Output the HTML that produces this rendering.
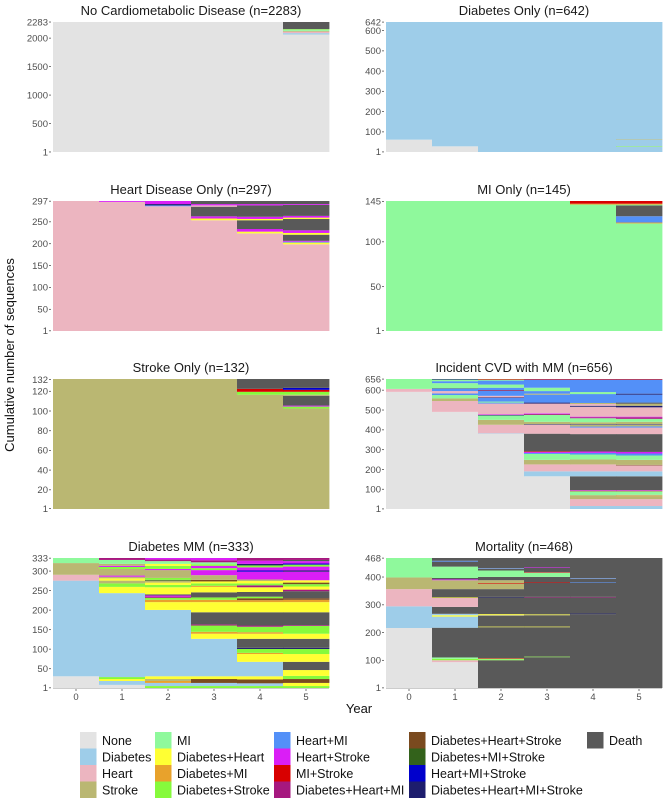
<!DOCTYPE html>
<html><head><meta charset="utf-8">
<style>
html,body{margin:0;padding:0;background:#fff;}
svg{display:block;font-family:"Liberation Sans",Arial,sans-serif;}
</style></head>
<body>
<svg id="chart" width="670" height="799" viewBox="0 0 670 799" xmlns="http://www.w3.org/2000/svg">
<text x="0" y="0" transform="translate(14,355) rotate(-90)" text-anchor="middle" font-size="13" fill="#111">Cumulative number of sequences</text>
<text x="359" y="713" text-anchor="middle" font-size="13" fill="#111">Year</text>
</svg>
<script>
// state codes
const stateNames = ["None","Diabetes","Heart","Stroke","MI","Diabetes+Heart","Diabetes+MI","Diabetes+Stroke","Heart+MI","Heart+Stroke","MI+Stroke","Diabetes+Heart+MI","Diabetes+Heart+Stroke","Diabetes+MI+Stroke","Heart+MI+Stroke","Diabetes+Heart+MI+Stroke","Death"];
const stateColors = ["#e3e3e3","#9ecde9","#ecb5c0","#bab772","#8ff99c","#ffff33","#e8a22c","#86fa3c","#5390f8","#da1ef6","#d80000","#a6187f","#7a4a1f","#33621b","#0000cc","#1d1d6d","#595959"];
const years = [0,1,2,3,4,5];

// panel data: per year, list of [state, count] from bottom up
const noCardio = [
 [[0,2283]],[[0,2283]],[[0,2283]],[[0,2283]],[[0,2283]],
 [[0,2063],[1,25],[2,25],[3,15],[4,20],[7,10],[16,125]]
];
const diabetesOnly = [
 [[0,61],[1,581]],[[0,28],[1,614]],[[1,642]],[[1,642]],[[1,642]],
 [[1,27],[7,2],[1,31],[3,2],[1,580]]
];
const heartOnly = [
 [[2,297]],
 [[2,295],[9,2]],
 [[2,285],[8,2],[15,3],[9,7]],
 [[2,253],[5,4],[9,5],[16,22],[2,3],[9,3],[16,7]],
 [[2,223],[5,4],[9,6],[16,20],[5,3],[9,5],[16,26],[9,3],[16,7]],
 [[2,198],[5,4],[8,2],[9,2],[16,14],[5,4],[9,6],[16,26],[5,3],[9,4],[16,25],[9,2],[16,7]]
];
const miOnly = [
 [[4,145]],[[4,145]],[[4,145]],[[4,145]],
 [[4,141],[6,1],[10,3]],
 [[4,120],[6,1],[8,7],[16,12],[4,1],[6,1],[10,3]]
];
const strokeOnly = [
 [[3,132]],[[3,132]],[[3,132]],[[3,132]],
 [[3,116],[7,3],[10,3],[16,10]],
 [[3,102],[7,2],[9,1],[16,10],[3,1],[7,3],[10,2],[14,2],[16,9]]
];
const cvdMM = [
 [[0,591],[2,15],[4,50]],
 [[0,490],[2,55],[3,13],[4,17],[8,8],[2,12],[8,12],[15,2],[4,26],[8,10],[4,8],[15,3]],
 [[0,380],[1,2],[2,43],[3,25],[4,22],[15,3],[9,2],[2,55],[8,5],[4,5],[8,18],[15,3],[2,8],[8,25],[10,2],[8,14],[4,16],[8,20],[4,5],[10,3]],
 [[0,165],[1,25],[2,35],[3,23],[4,30],[8,5],[9,5],[10,3],[16,89],[2,45],[15,3],[3,12],[4,35],[11,5],[9,3],[2,49],[15,5],[8,40],[3,5],[8,13],[4,17],[8,41],[10,3]],
 [[1,15],[2,35],[3,20],[4,20],[10,2],[9,3],[16,70],[1,25],[2,35],[3,25],[4,25],[8,8],[9,7],[16,88],[2,33],[8,5],[3,9],[15,3],[3,10],[4,20],[11,5],[9,3],[2,50],[15,5],[2,9],[3,5],[8,45],[4,10],[8,63],[10,3]],
 [[1,15],[2,35],[3,15],[6,2],[3,5],[4,18],[10,2],[9,3],[16,70],[1,25],[2,30],[12,3],[3,25],[4,22],[8,10],[9,8],[16,90],[2,33],[8,6],[3,8],[15,3],[3,12],[4,15],[11,8],[9,3],[2,47],[15,8],[3,10],[16,6],[8,40],[15,5],[8,71],[10,3]]
];
const diabetesMM = [
 [[0,30],[1,245],[2,15],[3,30],[4,13]],
 [[0,8],[1,10],[5,5],[7,5],[1,215],[5,16],[7,9],[3,7],[5,6],[3,4],[9,3],[3,17],[7,5],[9,3],[3,5],[4,10],[11,5]],
 [[7,5],[1,8],[6,5],[3,5],[5,7],[1,170],[5,20],[6,6],[7,5],[11,3],[9,3],[16,3],[5,18],[7,6],[5,6],[3,5],[13,2],[7,5],[3,20],[9,3],[7,8],[5,5],[4,7],[11,4],[9,4]],
 [[7,5],[1,8],[12,10],[5,7],[1,96],[5,13],[6,5],[7,16],[11,3],[16,31],[5,26],[6,6],[7,6],[16,13],[5,14],[6,3],[7,6],[5,5],[12,4],[3,12],[9,13],[7,5],[9,6],[7,4],[4,5],[11,5],[9,6]],
 [[7,5],[1,7],[12,10],[5,8],[1,37],[5,20],[6,3],[7,10],[15,3],[16,23],[5,13],[6,4],[7,14],[11,3],[16,34],[5,26],[6,5],[12,5],[7,4],[16,12],[5,12],[11,5],[7,5],[5,6],[3,4],[9,20],[14,3],[9,8],[7,5],[15,4],[9,8],[11,7]],
 [[7,5],[5,8],[12,10],[7,8],[5,15],[16,21],[5,20],[7,13],[15,3],[16,23],[5,13],[7,20],[11,2],[16,33],[5,26],[6,6],[12,4],[16,18],[11,4],[5,8],[7,6],[12,4],[5,6],[9,22],[15,3],[9,10],[7,5],[14,3],[9,6],[16,3],[11,5]]
];
const mortality = [
 [[0,216],[1,78],[2,62],[3,42],[4,70]],
 [[0,93],[2,7],[7,5],[4,5],[16,107],[1,40],[5,5],[1,5],[16,25],[2,32],[5,2],[16,30],[3,32],[9,3],[16,5],[4,41],[16,18],[8,3],[16,10]],
 [[16,100],[7,3],[4,3],[10,2],[16,111],[5,2],[16,39],[3,3],[5,3],[16,60],[15,2],[16,28],[3,20],[10,2],[3,10],[16,12],[4,23],[16,6],[8,2],[16,37]],
 [[16,111],[7,2],[16,106],[5,2],[16,40],[3,2],[5,2],[16,61],[11,2],[16,50],[10,2],[16,20],[4,15],[10,2],[16,15],[9,2],[16,34]],
 [[16,266],[15,2],[16,58],[11,2],[16,50],[8,2],[16,13],[8,2],[16,73]],
 [[16,468]]
];

// tick labels
const ticksNoCardio = [1,500,1000,1500,2000,2283];
const ticksDiabetesOnly = [1,100,200,300,400,500,600,642];
const ticksHeartOnly = [1,50,100,150,200,250,297];
const ticksMiOnly = [1,50,100,145];
const ticksStrokeOnly = [1,20,40,60,80,100,120,132];
const ticksCvdMM = [1,100,200,300,400,500,600,656];
const ticksDiabetesMM = [1,50,100,150,200,250,300,333];
const ticksMortality = [1,100,200,300,400,468];

const panelTitles = ["No Cardiometabolic Disease (n=2283)","Diabetes Only (n=642)","Heart Disease Only (n=297)","MI Only (n=145)","Stroke Only (n=132)","Incident CVD with MM (n=656)","Diabetes MM (n=333)","Mortality (n=468)"];
const panelN = [2283,642,297,145,132,656,333,468];

const NS = "http://www.w3.org/2000/svg";
const svg = document.getElementById('chart');
function mk(tag, attrs, parent){
  const e = document.createElementNS(NS, tag);
  for (const k in attrs) e.setAttribute(k, attrs[k]);
  (parent||svg).appendChild(e);
  return e;
}
const panels = [
 {data:noCardio,ticks:ticksNoCardio,name:"no-cardiometabolic"},
 {data:diabetesOnly,ticks:ticksDiabetesOnly,name:"diabetes-only"},
 {data:heartOnly,ticks:ticksHeartOnly,name:"heart-disease-only"},
 {data:miOnly,ticks:ticksMiOnly,name:"mi-only"},
 {data:strokeOnly,ticks:ticksStrokeOnly,name:"stroke-only"},
 {data:cvdMM,ticks:ticksCvdMM,name:"incident-cvd-mm"},
 {data:diabetesMM,ticks:ticksDiabetesMM,name:"diabetes-mm"},
 {data:mortality,ticks:ticksMortality,name:"mortality"}
];
const colLeft = [53, 386];
const rowTop = [22, 201, 379, 558];
const PW = 276, PH = 130;

panels.forEach((p, i) => {
  const left = colLeft[i % 2], top = rowTop[Math.floor(i / 2)];
  const n = panelN[i];
  const bottom = top + PH;
  const colW = PW / years.length;
  const xScale = yr => left + yr * colW;
  const yScale = c => bottom - c * PH / n;
  const g = mk('g', {});
  
  
  const t = mk('text', {x: left + PW/2, y: top - 7, 'text-anchor':'middle', 'font-size':'13', fill:'#1a1a1a'}, g);
  
  
  t.textContent = panelTitles[i];
  p.data.forEach((stack, yi) => {
    let cum = 0;
    stack.forEach(seg => {
      const y0 = yScale(cum), y1 = yScale(cum + seg[1]);
      const r = mk('rect', {x: xScale(years[yi]), y: y1, width: colW + 0.4, height: Math.max(y0 - y1, 0.5), fill: stateColors[seg[0]]}, g);
      
      
      cum += seg[1];
    });
  });
  p.ticks.forEach(v => {
    const yy = bottom - (v - 0.5) * PH / n;
    mk('line', {x1: left - 4, x2: left - 2, y1: yy, y2: yy, stroke: '#555', 'stroke-width': 0.8}, g);
    const tl = mk('text', {x: left - 5, y: yy + 3.3, 'text-anchor': 'end', 'font-size': '9.5', fill: '#4d4d4d'}, g);
    
    
    tl.textContent = v;
  });
  if (i >= 6) {
    mk('line', {x1: left, x2: left + PW, y1: bottom + 0.5, y2: bottom + 0.5, stroke: '#bbb', 'stroke-width': 0.8}, g);
    years.forEach(yr => {
      const cx = xScale(yr) + colW / 2;
      mk('line', {x1: cx, x2: cx, y1: bottom + 1, y2: bottom + 3, stroke: '#555', 'stroke-width': 0.8}, g);
      const xl = mk('text', {x: cx, y: bottom + 12, 'text-anchor': 'middle', 'font-size': '9.5', fill: '#4d4d4d'}, g);
      
      
      xl.textContent = yr;
    });
  }
});

// legend
const legendColX = [80, 155, 274, 409, 587];
const legendRowY = [732, 748.5, 765, 781.5];
const lg = mk('g', {});


stateNames.forEach((nm, k) => {
  const col = Math.floor(k / 4), row = k % 4;
  const x = legendColX[col], y = legendRowY[row];
  const e = mk('g', {}, lg);
  
  
  mk('rect', {x: x, y: y, width: 16.5, height: 16.5, fill: stateColors[k]}, e);
  const tx = mk('text', {x: x + 22, y: y + 13, 'font-size': '12.5', fill: '#111'}, e);
  tx.textContent = nm;
});
</script>
</body></html>
